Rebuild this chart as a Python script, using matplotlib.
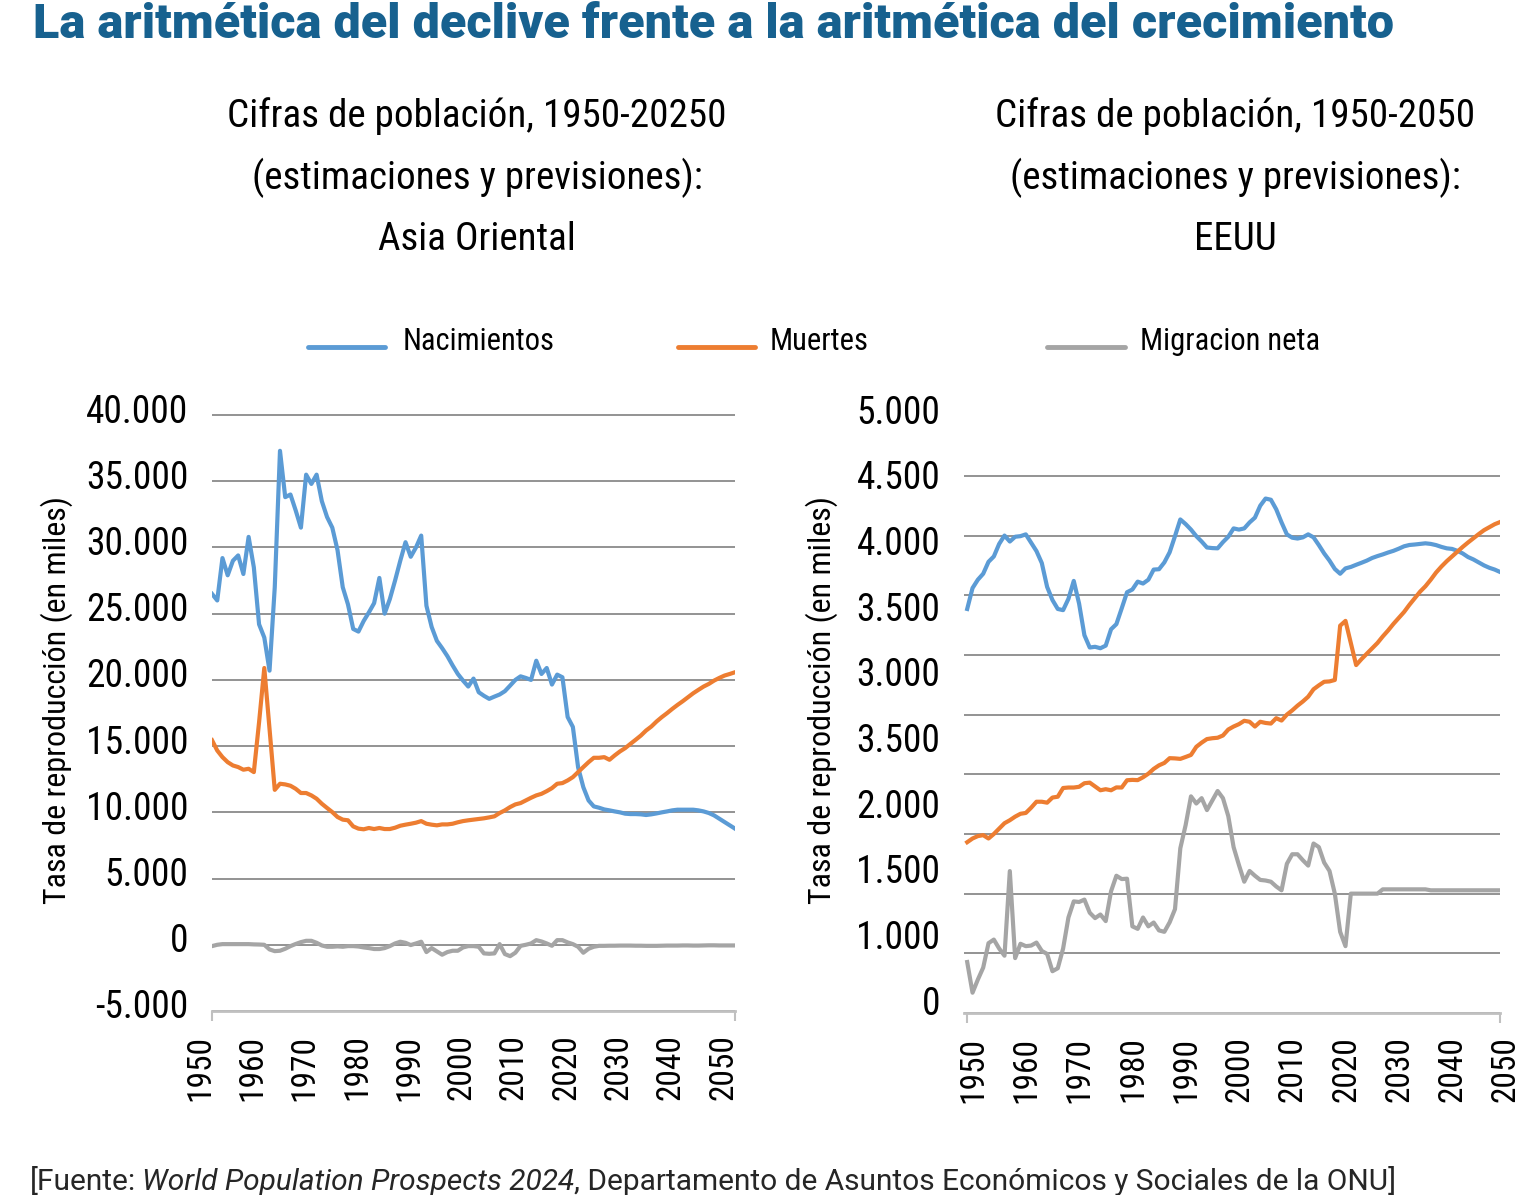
import numpy as np
import matplotlib
matplotlib.use("Agg")
import matplotlib.pyplot as plt
from matplotlib import font_manager as fm
from matplotlib.transforms import ScaledTranslation
from matplotlib.lines import Line2D

# ---------------- data ----------------
years = np.arange(1950, 2051)

asia_births = [
    26500, 26000, 29200, 27900, 29000, 29400, 28000, 30800, 28500, 24200,
    23200, 20700, 27000, 37300, 33800, 34000, 32800, 31500, 35500, 34800,
    35500, 33500, 32300, 31500, 29800, 27000, 25700, 23850, 23650, 24450,
    25100, 25800, 27700, 25000, 26100, 27500, 29000, 30400, 29300, 30000,
    30900, 25600, 24000, 22950, 22400, 21800, 21100, 20450, 19950, 19500,
    20100, 19070, 18800, 18570, 18740, 18900, 19150, 19570, 20000, 20270,
    20150, 20000, 21450, 20450, 20900, 19650, 20400, 20200, 17200, 16450,
    13400, 11900, 10900, 10450, 10350, 10220, 10150, 10070, 10000, 9900,
    9870, 9870, 9850, 9800, 9850, 9920, 10000, 10070, 10150, 10200,
    10200, 10200, 10200, 10150, 10070, 9950, 9770, 9520, 9270, 9020,
    8770]
asia_deaths = [
    15450, 14670, 14170, 13790, 13540, 13420, 13220, 13290, 13040, 16800,
    20900, 16300, 11700, 12160, 12110, 12010, 11780, 11460, 11460, 11280,
    11030, 10650, 10330, 10020, 9650, 9450, 9400, 8940, 8770, 8720,
    8820, 8740, 8820, 8740, 8740, 8840, 8990, 9070, 9140, 9220,
    9340, 9140, 9070, 9020, 9090, 9090, 9140, 9250, 9340, 9400,
    9450, 9500, 9550, 9620, 9700, 9950, 10150, 10400, 10600, 10700,
    10900, 11100, 11280, 11400, 11600, 11830, 12160, 12210, 12410, 12660,
    13040, 13420, 13790, 14120, 14120, 14170, 13970, 14300, 14600, 14850,
    15170, 15480, 15800, 16180, 16480, 16860, 17190, 17490, 17810, 18110,
    18390, 18690, 18990, 19250, 19500, 19700, 19950, 20150, 20330, 20450,
    20580]
asia_migration = [
    -100, 0, 50, 50, 50, 50, 50, 50, 30, 20,
    0, -350, -480, -450, -300, -100, 60, 200, 300, 300,
    150, -50, -150, -150, -120, -150, -100, -100, -130, -200,
    -250, -320, -320, -250, -100, 100, 230, 150, -20, 100,
    230, -550, -250, -500, -750, -550, -450, -450, -200, -100,
    -100, -150, -650, -680, -650, 50, -700, -860, -600, -80,
    0, 100, 350, 250, 100, -75, 350, 350, 180, 50,
    -150, -600, -300, -150, -80, -80, -70, -70, -60, -60,
    -60, -70, -70, -80, -80, -80, -70, -60, -60, -60,
    -50, -50, -60, -60, -50, -40, -40, -50, -50, -50,
    -50]

us_births = [
    3385, 3560, 3630, 3680, 3780, 3825, 3930, 4000, 3950, 3990,
    3995, 4010, 3940, 3870, 3770, 3570, 3460, 3385, 3375, 3470,
    3620, 3430, 3165, 3062, 3068, 3056, 3078, 3215, 3258, 3390,
    3525, 3548, 3614, 3598, 3630, 3715, 3718, 3775, 3860, 3995,
    4135, 4096, 4050, 3995, 3950, 3900, 3895, 3893, 3945, 3990,
    4060, 4050, 4060, 4110, 4150, 4250, 4310, 4300, 4220, 4110,
    4010, 3982, 3975, 3985, 4010, 3985, 3920, 3850, 3790, 3720,
    3680, 3725, 3737, 3755, 3772, 3790, 3812, 3828, 3842, 3858,
    3872, 3890, 3910, 3921, 3925, 3930, 3935, 3930, 3920, 3905,
    3893, 3888, 3872, 3850, 3820, 3800, 3775, 3750, 3730, 3715,
    3695]
us_deaths = [
    1431, 1462, 1482, 1490, 1462, 1500, 1545, 1590, 1615, 1645,
    1669, 1676, 1720, 1770, 1770, 1762, 1805, 1812, 1885, 1889,
    1889, 1895, 1925, 1930, 1898, 1866, 1875, 1866, 1890, 1889,
    1950, 1953, 1951, 1975, 2005, 2045, 2075, 2095, 2135, 2133,
    2129, 2145, 2162, 2230, 2265, 2295, 2302, 2306, 2325, 2375,
    2400, 2420, 2448, 2440, 2400, 2440, 2430, 2425, 2470, 2450,
    2500, 2535, 2575, 2610, 2650, 2712, 2745, 2775, 2778, 2790,
    3245, 3285, 3100, 2915, 2965, 3010, 3055, 3100, 3155, 3205,
    3260, 3310, 3360, 3420, 3475, 3530, 3575, 3630, 3690, 3740,
    3785, 3825, 3865, 3905, 3942, 3977, 4012, 4045, 4070, 4095,
    4113]
us_migration = [
    427, 170, 280, 380, 585, 615, 540, 480, 1189, 460,
    580, 560, 565, 590, 520, 495, 350, 375, 540, 800,
    935, 930, 950, 840, 795, 825, 770, 1020, 1150, 1122,
    1125, 726, 705, 800, 726, 758, 692, 680, 760, 870,
    1380, 1575, 1815, 1755, 1800, 1700, 1780, 1860, 1800, 1650,
    1390, 1240, 1100, 1190, 1150, 1115, 1110, 1100, 1060, 1028,
    1250, 1330, 1330, 1280, 1235, 1420, 1390, 1260, 1190, 1000,
    680, 560, 1000, 1000, 1000, 1000, 1000, 1000, 1036, 1036,
    1036, 1036, 1036, 1036, 1036, 1036, 1036, 1028, 1028, 1028,
    1028, 1028, 1028, 1028, 1028, 1028, 1028, 1028, 1028, 1028,
    1028]

series_names = ["Nacimientos", "Muertes", "Migracion neta"]
series_colors = ["#5b9bd5", "#ed7d31", "#a5a5a5"]

x_tick_years = list(range(1950, 2051, 10))
x_tick_labels = [str(y) for y in x_tick_years]

left_grid = list(range(-5000, 40001, 5000))
left_tick_labels = ["-5.000", "0", "5.000", "10.000", "15.000", "20.000",
                    "25.000", "30.000", "35.000", "40.000"]

right_grid = list(range(0, 5001, 500))
right_tick_labels = ["5.000", "4.500", "4.000", "3.500", "3.000", "3.500",
                     "2.000", "1.500", "1.000", "0"]

main_title = "La aritmética del declive frente a la aritmética del crecimiento"
left_title = ["Cifras de población, 1950-20250", "(estimaciones y previsiones):", "Asia Oriental"]
right_title = ["Cifras de población, 1950-2050", "(estimaciones y previsiones):", "EEUU"]
y_label = "Tasa de reproducción (en miles)"
source_parts = ["[Fuente:", "World Population Prospects 2024", ", Departamento de Asuntos Económicos y Sociales de la ONU]"]

# ---------------- fonts ----------------
available = {f.name for f in fm.fontManager.ttflist}
def pick(*cands):
    for c in cands:
        if c in available:
            return c
    return "DejaVu Sans"

COND = pick("Roboto Condensed", "Liberation Sans Narrow", "DejaVu Sans Condensed",
            "Open Sans Condensed", "Roboto")
REG = pick("Roboto", "Inter", "Lato", "DejaVu Sans")

# ---------------- figure ----------------
W, H = 1523, 1195
fig = plt.figure(figsize=(W / 100, H / 100), dpi=100)
fig.patch.set_facecolor("white")

def fx(px):
    return px / W

def fy(px):
    return 1 - px / H

ax1 = fig.add_axes([fx(212), fy(1011), (735 - 212) / W, (1011 - 414) / H])
ax2 = fig.add_axes([fx(964), fy(1013), (1500 - 964) / W, (1013 - 415) / H])

grid_color = "#8a8a8a"
axis_color = "#c0c0c0"

def style_axes(ax, xlo):
    for s in ("top", "right", "left"):
        ax.spines[s].set_visible(False)
    ax.spines["bottom"].set_color(axis_color)
    ax.spines["bottom"].set_linewidth(2)
    ax.set_xlim(xlo, 2050)
    ax.xaxis.remove_overlapping_locs = False
    ax.set_xticks(x_tick_years, labels=x_tick_labels)
    ax.set_xticks([1950, 2050], minor=True)
    ax.tick_params(axis="x", which="major", length=0, rotation=90, pad=17,
                   labelsize=24)
    ax.tick_params(axis="x", which="minor", length=7, width=1.5,
                   color=axis_color, direction="out")
    for lab in ax.get_xticklabels():
        lab.set_fontfamily(COND)
    ax.tick_params(axis="y", which="both", length=0, labelsize=27)
    ax.set_facecolor("none")

# left chart
style_axes(ax1, 1950)
ax1.set_ylim(-5000, 40080)
ax1.set_yticks(left_grid, labels=left_tick_labels)
ax1.yaxis.grid(True, color=grid_color, linewidth=1.3)
ax1.tick_params(axis="y", pad=17)
for lab in ax1.get_yticklabels():
    lab.set_fontfamily(COND)
    lab.set_transform(lab.get_transform() + ScaledTranslation(0, 7 / 100, fig.dpi_scale_trans))
for lab in ax1.get_xticklabels():
    lab.set_transform(lab.get_transform() + ScaledTranslation(-12 / 100, 0, fig.dpi_scale_trans))

for vals, col in zip([asia_births, asia_deaths, asia_migration], series_colors):
    ax1.plot(years, vals, color=col, lw=3.0, solid_joinstyle="round", zorder=3)

# right chart
style_axes(ax2, 1949.4)
ax2.set_ylim(0, 5010)
ax2.set_yticks(np.linspace(5000, 50, len(right_tick_labels)), labels=right_tick_labels)
ax2.set_yticks(right_grid, minor=True)
ax2.yaxis.grid(True, which="minor", color=grid_color, linewidth=1.3)
ax2.yaxis.grid(False, which="major")
ax2.tick_params(axis="y", pad=17)
for lab in ax2.get_yticklabels():
    lab.set_fontfamily(COND)
    lab.set_transform(lab.get_transform() + ScaledTranslation(0, 7 / 100, fig.dpi_scale_trans))
for lab in ax2.get_xticklabels():
    lab.set_transform(lab.get_transform() + ScaledTranslation(6 / 100, 0, fig.dpi_scale_trans))

for vals, col in zip([us_births, us_deaths, us_migration], series_colors):
    ax2.plot(years, vals, color=col, lw=3.0, solid_joinstyle="round", zorder=3)

# y labels
for xpx in (57, 822):
    fig.text(fx(xpx), fy(700), y_label, rotation=90, ha="center", va="center",
             fontsize=23, family=COND, color="black")

# subplot titles
for cx, lines in ((477, left_title), (1235, right_title)):
    for i, line in enumerate(lines):
        fig.text(fx(cx), fy(116 + 62 * i), line, ha="center", va="center",
                 fontsize=28.2, family=COND, color="black")

# main title (width fitted to the reference span)
renderer = fig.canvas.get_renderer()
title_t = fig.text(fx(33), fy(25), main_title, ha="left", va="center", fontsize=33,
                   family=REG, fontweight="heavy", color="#17618f")
tw = title_t.get_window_extent(renderer).width
title_t.set_fontsize(33 * (1395 - 33) / tw)

# legend (manual)
leg_line_x = [(308, 385), (678, 755), (1047, 1125)]
leg_text_x = [403, 770, 1140]
for name, col, (a, b), tx in zip(series_names, series_colors, leg_line_x, leg_text_x):
    fig.add_artist(Line2D([fx(a), fx(b)], [fy(347), fy(347)], color=col, lw=3.5,
                          solid_capstyle="round", transform=fig.transFigure))
    fig.text(fx(tx), fy(341), name, ha="left", va="center", fontsize=22,
             family=COND, color="black")

# source line
x_cur = 30
base_y = fy(1190)
styles = ["normal", "italic", "normal"]
for i, (part, st) in enumerate(zip(source_parts, styles)):
    t = fig.text(fx(x_cur), base_y, part, ha="left", va="baseline", fontsize=21.5,
                 family=REG, style=st, color="#262626")
    w = t.get_window_extent(renderer).width
    x_cur += w + (6 if i == 0 else 0)

fig.savefig("out.png", dpi=100, facecolor="white")
